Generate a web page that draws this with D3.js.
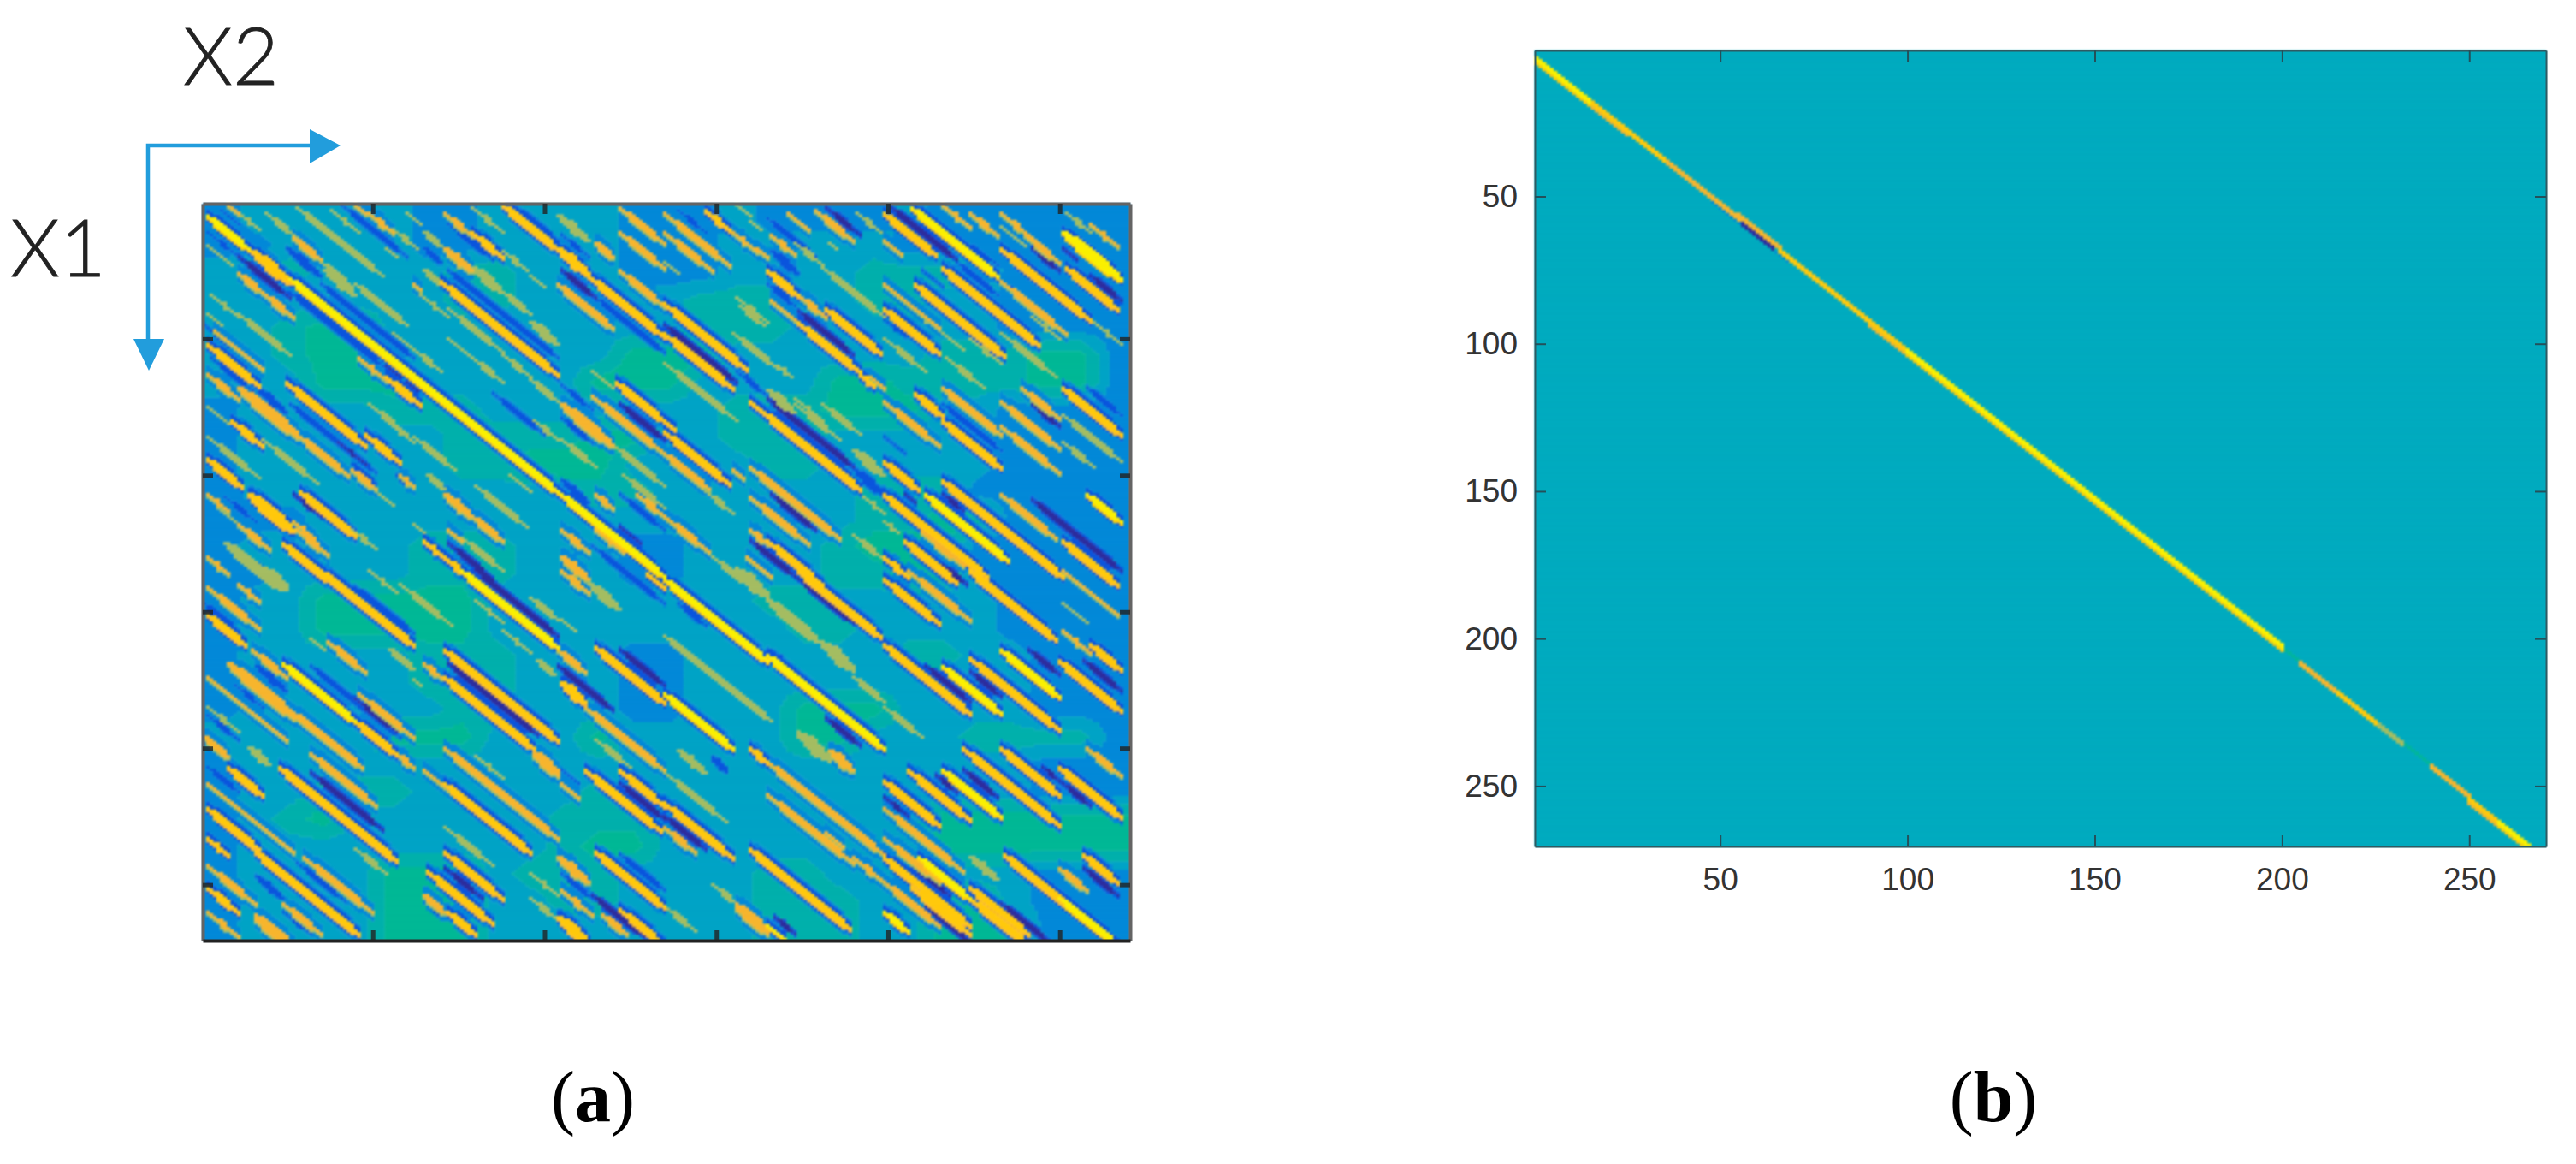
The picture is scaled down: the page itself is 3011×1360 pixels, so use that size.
<!DOCTYPE html>
<html lang="en">
<head>
<meta charset="UTF-8">
<title>X1 X2 matrices</title>
<script src="https://d3js.org/d3.v7.min.js"></script>
<style>
  html, body { margin: 0; background: #fff; }
  svg { display: block; }
  .cells { filter: blur(0.8px); }
</style>
</head>
<body>
<svg width="3011" height="1360"></svg>
<script>
// matrix size and tick labels
const matrixSize = 270;
const tickValues = [50, 100, 150, 200, 250];

// colour levels 0..9, navy trough up to yellow crest
const levelColors = ["#2e2d9e", "#0b55dd", "#0389d8", "#00a3c6", "#00b0ac", "#00b896", "#a5bd62", "#f7b52e", "#ffc90c", "#fbf000"];

// panel (a) background level, one char per 10x10 samples (row = X1, char = X2)
const baseGrid = [
  "233333223333222322223222222",
  "223333223333222333332222222",
  "344333344333222333344442222",
  "333333344333334443344332222",
  "334553333333334443333332222",
  "334553333333555333333444552",
  "333555333335553333554444552",
  "233334443333333444555332222",
  "233333344445533444333332222",
  "233333344555333344333332222",
  "233333333344433333344422222",
  "222333333333333333344552222",
  "233333444333223333455522222",
  "223333444333223333445522222",
  "233555553333333344333332222",
  "233555553333333334433332222",
  "233333444333223333334433222",
  "233333444333223333333333222",
  "233333344333223335553333222",
  "333335553335333335533344442",
  "233333333333333333333333222",
  "233444333334333333333333222",
  "234533333344433333333555555",
  "233333333345533333333555555",
  "233335553444333344333333222",
  "233335553344333344433553222",
  "233335553333333344433555222"
];

// panel (a) warm streaks: [startX2, startX1, endX2, width, level], they run at 45 degrees in sample space
const crests = [
  // top left
  [2,5,14,3.5,9],[15,18,26,5,8],[26,28,104,3.5,9],[105,107,135,3.5,9],
  [8,1,11,3,7],[11,4,17,2.5,6],[19,4,28,2.5,6],[27,13,35,4,7],[35,22,44,3,6],[28,2,53,2.5,6],[38,3,46,2,6],
  [45,1,48,2.5,7],[49,4,56,3,7],[56,10,63,2.5,6],[60,4,64,1.5,6],[65,11,70,4,6],[54,17,57,2,6],[71,4,79,3,7],
  [79,11,88,3,8],[88,1,104,3.5,8],[79,2,88,2,6],[71,17,79,5,7],[79,24,88,5,6],[88,33,96,3,6],[96,44,104,5,6],
  [88,18,95,2.5,6],[96,27,100,2,6],[104,5,113,4,6],[104,17,113,5,8],[113,27,135,3,8],[115,15,120,5,7],
  [122,11,135,3,7],[122,2,135,3,7],[104,30,120,3.5,7],[122,25,135,3,7],[2,16,9,2,6],[11,26,18,4,7],[18,33,27,3,7],
  [3,34,11,2,6],[2,41,6,2,6],[11,41,26,2.5,6],[2,52,17,3,8],[4,47,18,2,7],[11,68,29,5,7],[2,63,11,3,7],
  [25,66,48,3,8],[48,85,58,3,8],[58,100,62,4,7],[9,80,18,3,8],[2,75,8,2,6],[2,86,17,2,6],[18,87,34,2,6],
  [28,85,43,3,7],[44,98,51,4,7],[51,106,56,2.5,6],[2,94,12,3.5,8],[2,107,8,3,7],[14,107,27,6,8],[27,117,33,3,7],
  [29,106,45,3.5,8],[11,118,20,3,7],[5,112,11,2,6],[28,120,37,3,7],[7,125,24,5,6],[24,125,38,3.5,8],[2,130,8,3,7],
  [44,120,51,2.5,6],[36,25,45,4,6],[45,30,60,3,6],[46,57,54,2.5,7],[54,64,64,3,8],[56,48,62,2,6],[62,54,70,2.5,6],
  [72,50,79,2,6],[79,57,88,2.5,6],[72,39,88,2,6],[62,30,64,3,7],[65,25,70,4,6],[70,29,104,3,8],[64,34,72,2,6],
  [88,56,96,2.5,6],[96,65,104,3,6],[49,74,60,2,6],[54,80,62,2,6],[62,86,74,2.5,6],[97,80,104,2.5,6],[114,62,120,1.5,6],
  [105,74,120,5,7],[120,89,135,2.5,6],[114,71,135,2.5,7],[121,66,135,3.5,8],[105,87,115,2.5,6],[123,100,135,2.5,6],
  [66,100,71,4,6],[71,107,79,5,7],[79,115,88,4,7],[80,104,95,2.5,6],[90,100,96,2,6],[62,118,65,2,6],[72,120,76,3,7],
  [76,123,88,2.5,6],[65,124,71,3,8],[71,130,78,3,8],[105,120,113,3,7],[105,130,113,5,7],[115,107,120,4,7],[127,107,135,3,7],
  [115,120,123,2.5,7],
  // top right
  [147,3,154,3,8],[154,10,162,2.5,7],[162,17,165,4,7],[135,4,154,2.5,7],[135,11,149,2.5,7],[135,22,139,2,6],
  [160,7,163,2,6],[155,0,160,2,6],[166,12,173,3,7],[173,15,181,2.5,6],[165,25,174,4,8],[174,34,182,3,7],[182,39,198,3.5,8],
  [181,24,199,2.5,6],[171,4,177,2.5,7],[179,3,190,3,7],[191,4,198,2.5,6],[183,15,185,1.5,6],[156,35,165,2,6],
  [157,38,164,3,6],[166,36,185,2,7],[174,44,192,3,8],[192,63,196,3.5,8],[195,64,199,3,7],[155,48,168,2.5,6],[168,60,172,3,6],
  [135,37,159,3,8],[135,48,155,3,8],[135,59,156,2,6],[165,69,173,5,6],[173,74,186,2,6],[160,73,164,3,8],[164,77,192,4,8],
  [173,72,181,2,6],[181,74,192,2.5,6],[190,91,199,5,6],[135,80,138,3,8],[135,84,154,3,8],[135,92,148,4,7],
  [155,98,158,4,7],[160,97,186,3,7],[147,106,155,2.5,6],[160,108,177,2.5,7],[193,108,199,2.5,6],[135,115,148,2.5,7],
  [160,120,165,4,7],[165,124,181,3,8],[159,130,166,2.5,7],[190,122,199,2.5,6],[149,130,160,2.5,6],
  [199,4,214,4,8],[207,2,232,4,9],[199,14,204,3,7],[216,24,244,4,8],[208,30,234,3.5,8],[233,17,259,3,8],[240,12,250,3,7],
  [224,4,232,3,7],[216,1,224,2.5,7],[233,4,242,2.5,7],[251,11,268,5,9],[252,24,267,3.5,8],[252,4,259,2.5,6],[259,8,267,2.5,7],
  [199,30,215,2,7],[199,39,215,3.5,8],[199,50,211,2,6],[217,57,228,2,6],[233,48,249,2,6],[233,29,252,2.5,7],
  [208,70,216,3.5,8],[216,68,233,4,7],[233,82,250,2.5,7],[199,73,215,2.5,7],[216,80,233,4,8],[239,68,250,3,7],
  [251,68,268,4,8],[233,73,250,3,7],[251,78,268,2.5,6],[251,88,260,2.5,6],[199,95,209,3.5,8],[211,107,235,4,9],
  [216,102,251,3.5,8],[199,107,229,3.5,8],[233,107,249,3,7],[258,107,268,4,9],[251,124,267,3.5,8],[199,130,206,3,8],
  [205,124,220,3.5,8],[210,121,222,2.5,7],[199,117,203,3,6],
  [233,9,240,2,6],[260,44,268,2,6],[242,42,250,2,6],[224,50,233,2,6],[215,47,222,2,6],[207,39,215,2,6],
  // bottom left
  [11,140,17,3,7],[19,135,25,6,6],[2,141,17,2.5,7],[35,135,62,3.5,8],[49,135,57,2,6],[58,140,73,2,6],[2,151,13,3.5,8],
  [24,169,45,3.5,9],[45,190,57,4,8],[15,164,25,3,7],[8,169,28,5,7],[27,187,47,4,7],[2,174,25,2,7],[2,185,11,2,6],
  [1,196,8,5,7],[14,200,20,5,6],[37,161,48,3,7],[32,160,36,2,6],[55,164,62,4,6],[62,175,64,2,6],[46,180,62,2.5,7],
  [65,169,70,4,7],[71,164,104,4,8],[71,174,97,3.5,8],[98,168,103,5,6],[71,200,104,3,7],[80,203,88,2,6],[97,202,104,7,7],
  [57,202,62,4,7],[65,208,94,2,7],[71,213,96,3.5,8],[71,229,85,2,6],[8,207,18,3.5,8],[2,213,27,2,7],[23,207,57,3.5,8],
  [32,202,51,3,7],[2,222,17,3.5,8],[2,233,8,3,8],[16,238,46,4,8],[30,240,50,2.5,7],[2,243,16,2.5,7],[2,251,11,3,8],
  [16,262,27,7,7],[2,260,11,2.5,7],[24,257,35,3,7],[45,237,54,2.5,6],[66,245,85,3,8],[71,238,88,3,8],[65,254,71,5,7],
  [72,260,80,4,8],[96,246,104,2,6],[96,255,104,2.5,6],[104,240,113,5,7],[104,262,113,6,8],[104,164,112,3.5,7],
  [105,176,112,6,8],[112,185,135,3,7],[115,163,135,3.5,8],[122,170,135,3,7],[105,213,110,2.5,7],[112,208,134,3,8],
  [122,208,135,3,8],[115,197,125,2.5,6],[130,203,135,3,7],[115,238,135,3.5,8],[122,259,135,3,8],[105,252,114,2.5,7],
  [117,261,124,4,7],[130,136,135,2.5,8],[105,135,113,3,7],[113,140,122,5,6],[76,135,104,3.5,9],[96,145,104,3,6],
  [105,153,109,1.5,6],[88,157,96,2,6],[80,146,88,2,6],
  // bottom right
  [135,138,165,3.5,9],[165,166,199,3.5,9],[156,135,165,6,6],[165,146,180,5,6],[174,135,198,3.5,8],[181,162,190,6,6],[190,174,199,3,6],
  [174,195,183,6,6],[183,201,190,6,7],[160,200,165,4,8],[165,205,199,3,7],[135,180,155,3.5,9],[135,159,166,3,6],
  [139,201,147,4,6],[135,209,153,2,6],[135,220,155,3,8],[135,229,144,3,7],[160,237,189,4,8],[165,217,190,2.5,7],[182,231,187,2.5,7],
  [190,240,199,2.5,7],[156,258,165,7,7],[165,265,170,3,9],[135,258,144,2.5,6],[149,250,157,2.5,6],
  [199,162,224,4,8],[216,170,233,4,9],[233,164,250,4,9],[224,167,250,3,8],[250,168,268,4,8],[259,162,268,4,8],
  [199,185,210,2.5,6],[199,138,215,3,8],[206,135,224,2.5,7],[224,135,249,3.5,8],[251,157,259,2.5,7],[251,147,258,2,6],[251,135,267,2,7],
  [206,208,224,3,8],[216,208,233,4,9],[222,200,250,3,8],[233,200,250,3.5,8],[250,207,268,3.5,8],[258,200,268,3,7],
  [199,212,215,3.5,8],[199,222,222,2.5,7],[199,233,215,2.5,7],[224,240,232,4,6],[234,239,267,4,8],[250,255,267,3.5,9],
  [199,240,224,3.5,8],[209,240,224,3.5,9],[224,255,242,3,8],[199,249,215,3,7],[199,260,206,3.5,9],[250,244,258,4,7],[257,239,267,4,8],
  [224,251,241,3.5,8],[207,251,224,3,8]
];

// panel (a) cool streaks, same columns
const troughs = [
  [11,20,26,2.5,0],[2,11,11,2,1],[6,3,11,2,1],[25,17,35,4,1],[35,30,62,3,1],[26,33,53,3,1],[54,60,58,2.5,0],[60,66,63,2,0],
  [41,1,60,2.5,1],[72,25,104,3,1],[105,25,115,3,0],[115,35,135,3,1],[105,12,113,2.5,1],[92,2,104,3,1],[65,17,70,5,1],
  [72,8,85,2.5,1],[16,68,25,4,1],[26,74,51,3,1],[40,88,48,2,0],[1,45,11,2.5,1],[3,57,15,2.5,1],[27,107,35,2.5,0],[7,108,16,2.5,1],
  [44,96,51,4,1],[57,100,61,4,1],[94,94,104,3,1],[85,70,100,2.5,1],[105,102,113,4,1],[72,125,85,2.5,0],[122,107,135,2.5,1],
  [122,119,128,2,0],[114,126,135,2.5,1],[105,79,114,3,1],[122,74,135,3,0],[105,67,114,2.5,1],
  [139,3,147,2.5,1],[165,6,179,3,1],[182,2,192,2.5,0],[166,18,174,5,1],[165,30,173,3,1],[174,40,190,3,0],[135,45,156,3,0],
  [156,62,165,2.5,1],[165,72,190,3,0],[190,98,199,5,1],[135,85,154,3,0],[166,107,179,3,0],[160,124,173,3,0],[201,2,220,3,0],
  [220,22,232,3,1],[242,17,250,3,0],[259,27,268,3,0],[251,17,255,2,0],[225,16,232,2,1],[210,25,216,2,1],[210,32,225,3,1],
  [234,30,241,3,1],[199,43,205,2.5,1],[216,74,233,3,1],[242,74,250,3,0],[258,68,268,3,1],[199,86,205,2,1],[205,107,208,2,0],
  [216,107,222,3,0],[224,112,240,3,1],[242,109,268,3,0],[216,133,223,3,0],
  [1,147,11,3,1],[45,141,62,3,1],[80,135,104,3,0],[72,169,98,3,0],[32,170,58,3,1],[45,182,57,2.5,0],[10,177,18,2.5,1],
  [2,188,11,2.5,1],[32,209,53,2.5,0],[2,207,11,3.5,1],[28,242,42,2.5,1],[71,244,82,2.5,0],[104,170,120,3,0],[122,164,135,3,0],
  [122,213,135,3,0],[105,208,110,2,1],[105,246,114,3,1],[114,254,129,3,0],[122,239,135,3,1],[16,247,24,4,1],[24,260,32,2.5,1],
  [16,170,25,4,1],[67,258,70,4,1],
  [174,138,190,3,0],[182,189,192,3,0],[165,164,173,4,1],[139,147,147,3,1],[149,154,155,3,1],[135,225,147,3,0],[211,170,224,3,0],
  [224,172,233,3,0],[241,164,250,3,0],[257,168,268,3,0],[199,218,206,2.5,0],[214,210,220,3,0],[222,208,232,3,0],[245,207,250,3,0],
  [251,213,259,3,0],[207,243,218,3,0],[211,258,224,3,0],[233,257,247,3,0],[257,244,267,3,0],[167,262,173,3,0],[149,204,153,6,1]
];

// panel (b) ridge along the diagonal, same columns, axis values of the picture
const ridge = [
  [1,3.5,15,1.2,9],[15,17.5,25,1.2,8],[25,27.5,35,1.1,8],[35,37.5,45,1.1,7],[45,47.5,55,1.1,7],[55,56.5,66,1.1,7],[66,68.5,90,1.1,8],
  [90,92.5,100,1.2,8],[100,102.5,200,1.2,9],[200,203,205,0.6,5],[205,208.5,215,1.1,7],[215,218.5,225,1.1,8],[225,228.5,232,1.1,6],
  [232,235,240,0.6,5],[240,243.5,250,1.1,7],[250,254.5,258,1.2,8],[258,262.5,268,1.2,9]
];
const ridgeTroughs = [[48,51.5,56,1.1,2],[56,59.5,64,1.1,0],[64,68,68,0.8,2]];

const svg = d3.select("svg");

// streaks taper at both ends, width counted in samples along X1
function halfWidth(s, j, o) {
  const ends = Math.min(j - s[0], s[2] - j);
  const k = s[4] === 6 ? o.scale * 1.25 : o.scale;
  return s[3] * k / 2 * (o.taper ? Math.min(1, 0.35 + ends / 6) : 1);
}

function stamp(m, s, o, extra, shift, paint) {
  for (let j = Math.max(1, Math.ceil(s[0])); j <= Math.min(matrixSize, s[2]); j++) {
    const mid = s[1] + (j - s[0]) + shift;
    const h = halfWidth(s, j, o) + extra;
    for (let i = Math.max(1, Math.ceil(mid - h)); i <= Math.min(matrixSize, mid + h); i++) {
      paint(m, i - 1, j - 1);
    }
  }
}

function drawStreaks(m, warm, cool, o) {
  const plain = { scale: 1, taper: o.taper };
  // crests sit in a blue band on both sides, deeper next to the strong ones
  if (o.halo) {
    warm.filter(s => s[4] >= 7).forEach(s => stamp(m, s, o, 3, 0, (a, i, j) => { a[i][j] = 2; }));
    warm.filter(s => s[4] >= 8).forEach(s => stamp(m, s, o, 1.8, 0, (a, i, j) => { a[i][j] = 1; }));
  }
  cool.forEach(s => stamp(m, s, plain, 0.9, 0, (a, i, j) => { a[i][j] = Math.min(a[i][j], Math.max(s[4] + 1, 1)); }));
  cool.forEach(s => stamp(m, s, plain, 0, 0, (a, i, j) => { a[i][j] = Math.min(a[i][j], s[4]); }));
  warm.slice().sort((p, q) => p[4] - q[4]).forEach(s => {
    if (s[3] >= 1.2 && s[4] > 6) stamp(m, s, o, o.fringe, 0.5, (a, i, j) => { a[i][j] = Math.max(a[i][j], s[4] - 1); });
    stamp(m, s, o, 0, 0, (a, i, j) => { a[i][j] = Math.max(a[i][j], s[4]); });
  });
}

// one path per colour, runs of equal cells along each row
function drawMatrix(g, m, x, y, color) {
  const paths = levelColors.map(() => []);
  m.forEach((row, i) => {
    let start = 0;
    for (let j = 1; j <= row.length; j++) {
      if (j === row.length || row[j] !== row[start]) {
        paths[row[start]].push(`M${x(start + 0.5)},${y(i + 0.5)}H${x(j + 0.5)}V${y(i + 1.5)}H${x(start + 0.5)}Z`);
        start = j;
      }
    }
  });
  g.selectAll("path").data(paths).join("path")
    .attr("d", d => d.join(""))
    .attr("fill", (d, k) => color(k))
    .attr("stroke", (d, k) => color(k))
    .attr("stroke-width", 0.4);
}

const color = d3.scaleOrdinal(d3.range(levelColors.length), levelColors);

// base level between the grid points, so the calm patches have soft edges
function baseLevel(i, j) {
  const u = Math.max(0, Math.min(25.999, (i - 5) / 10));
  const v = Math.max(0, Math.min(25.999, (j - 5) / 10));
  const r = Math.floor(u), c = Math.floor(v);
  const at = (a, b) => +(baseGrid[a][b] || 3);
  const top = at(r, c) * (1 - (v - c)) + at(r, c + 1) * (v - c);
  const bot = at(r + 1, c) * (1 - (v - c)) + at(r + 1, c + 1) * (v - c);
  return Math.round(top * (1 - (u - r)) + bot * (u - r));
}

// panel a
const xA = d3.scaleLinear([0.5, matrixSize + 0.5], [237, 1321]);
const yA = d3.scaleLinear([0.5, matrixSize + 0.5], [238, 1099]);
const matA = d3.range(matrixSize).map(i => d3.range(matrixSize).map(j => baseLevel(i, j)));
drawStreaks(matA, crests, troughs, { scale: 0.85, fringe: 0.5, halo: true, taper: true });
drawMatrix(svg.append("g").attr("class", "cells"), matA, xA, yA, color);

function plainAxis(axis, tx, ty, line) {
  svg.append("g").attr("transform", `translate(${tx},${ty})`)
    .call(axis.tickValues(tickValues).tickFormat("").tickSize(-12).tickSizeOuter(0))
    .call(g => g.select(".domain").attr("stroke", line).attr("stroke-width", 4))
    .call(g => g.selectAll(".tick line").attr("stroke", "#222").attr("stroke-opacity", 0.8).attr("stroke-width", 5));
}
plainAxis(d3.axisTop(xA), 0, 238, "#646464");
plainAxis(d3.axisLeft(yA), 237, 0, "#646464");
plainAxis(d3.axisRight(yA), 1321, 0, "#646464");
plainAxis(d3.axisBottom(xA), 0, 1099, "#222");

// panel b
const xB = d3.scaleLinear([0.5, matrixSize + 0.5], [1794, 2976]);
const yB = d3.scaleLinear([0.5, matrixSize + 0.5], [59, 989]);
svg.append("rect").attr("x", xB(0.5)).attr("y", yB(0.5))
  .attr("width", xB(matrixSize + 0.5) - xB(0.5)).attr("height", yB(matrixSize + 0.5) - yB(0.5))
  .attr("fill", "#00abbf");
const matB = d3.range(matrixSize).map(() => d3.range(matrixSize).map(() => 3));
drawStreaks(matB, ridge, ridgeTroughs, { scale: 1, fringe: 0.5, halo: false, taper: false });
// level 3 is the flat background of this panel, leave it to the rect
const colorB = k => k === 3 ? "#00abbf" : levelColors[k];
drawMatrix(svg.append("g").attr("class", "cells"), matB, xB, yB, colorB);

function boxAxis(axis, tx, ty, labelled, pad) {
  svg.append("g").attr("transform", `translate(${tx},${ty})`)
    .call(axis.tickValues(tickValues).tickFormat(labelled ? d3.format("d") : "").tickSize(-13).tickSizeOuter(0).tickPadding(pad))
    .call(g => g.select(".domain").attr("stroke", "#2f5a62").attr("stroke-width", 2))
    .call(g => g.selectAll(".tick line").attr("stroke", "#24505a").attr("stroke-width", 2))
    .call(g => g.selectAll("text").attr("font-family", "Liberation Sans").attr("font-size", 37).attr("fill", "#333"));
}
boxAxis(d3.axisTop(xB), 0, 59, false, 0);
boxAxis(d3.axisRight(yB), 2976, 0, false, 0);
boxAxis(d3.axisLeft(yB), 1794, 0, true, 20);
boxAxis(d3.axisBottom(xB), 0, 989, true, 25);

// X1 / X2 direction arrows
const arrowBlue = "#229ddc";
svg.append("path").attr("fill", "none").attr("stroke", arrowBlue).attr("stroke-width", 4.5)
  .attr("d", "M364,170H173V398");
svg.append("path").attr("fill", arrowBlue).attr("d", "M362,151L398,170L362,191Z");
svg.append("path").attr("fill", arrowBlue).attr("d", "M156,396H192L174,433Z");

const axisLabel = svg.append("g").attr("font-family", "Lato").attr("font-weight", 300).attr("font-size", 93)
  .attr("fill", "#222").attr("stroke", "#222").attr("stroke-width", 0.8);
axisLabel.append("text").attr("x", 214).attr("y", 99).text("X2");
axisLabel.append("text").attr("x", 12).attr("y", 323).text("X1");

// captions
[["a", 693], ["b", 2330]].forEach(([t, cx]) => {
  const c = svg.append("text").attr("x", cx).attr("y", 1310).attr("text-anchor", "middle")
    .attr("font-family", "Liberation Serif").attr("font-size", 84).attr("fill", "#000");
  c.append("tspan").text("(");
  c.append("tspan").attr("font-weight", "bold").text(t);
  c.append("tspan").text(")");
});
</script>
</body>
</html>
